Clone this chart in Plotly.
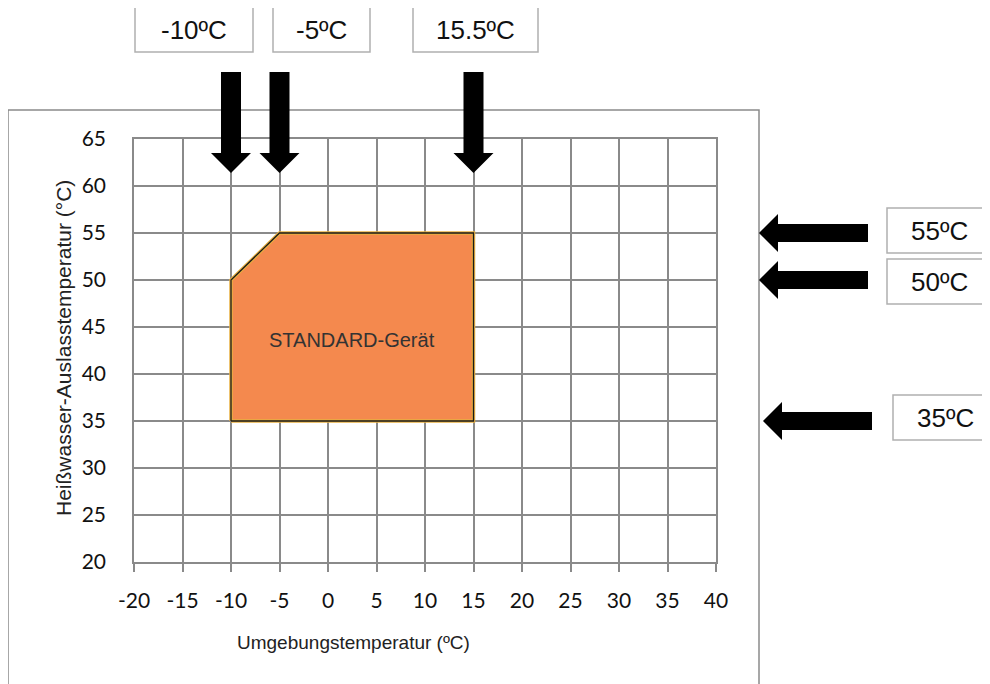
import plotly.graph_objects as go

# ---- data ----
region_x = [-10, -10, -5, 15, 15, -10]
region_y = [35, 50, 55, 55, 35, 35]
region_label = "STANDARD-Gerät"
x_ticks = [-20, -15, -10, -5, 0, 5, 10, 15, 20, 25, 30, 35, 40]
y_ticks = [20, 25, 30, 35, 40, 45, 50, 55, 60, 65]
top_marker_x = [-10, -5, 15]
top_marker_labels = ["-10ºC", "-5ºC", "15.5ºC"]
right_marker_y = [55, 50, 35]
right_marker_labels = ["55ºC", "50ºC", "35ºC"]
x_title = "Umgebungstemperatur (ºC)"
y_title = "Heißwasser-Auslasstemperatur (°C)"

OFF = 8  # page body margin
W, H = 990 - OFF, 684 - OFF
L, R, T, B = 134 - OFF, 716 - OFF, 139 - OFF, 562 - OFF
XMIN, XMAX, YMIN, YMAX = -20, 40, 20, 65


def px(x):
    return (x - OFF - L) / (R - L)


def py(y):
    return (B - (y - OFF)) / (B - T)


def data_to_px_x(v):
    return OFF + L + (v - XMIN) / (XMAX - XMIN) * (R - L)


def data_to_px_y(v):
    return OFF + B - (v - YMIN) / (YMAX - YMIN) * (B - T)


def path(points):
    return "M " + " L ".join(f"{px(a):.5f},{py(b):.5f}" for a, b in points) + " Z"


fig = go.Figure()
fig.add_trace(go.Scatter(x=region_x, y=region_y, mode="lines", fill="toself",
                         fillcolor="rgb(244,137,78)",
                         line=dict(color="#e8b040", width=3.5),
                         hoverinfo="skip", showlegend=False))
fig.add_trace(go.Scatter(x=region_x, y=region_y, mode="lines",
                         line=dict(color="#1a1a1a", width=1.3),
                         hoverinfo="skip", showlegend=False))

shapes = []
annotations = []
gray = "#8a8a8a"
boxline = "#b0b0b0"
label_font = dict(family="Liberation Sans, Arial", size=26, color="#111")

# outer frame
shapes.append(dict(type="rect", xref="paper", yref="paper",
                   x0=px(8), x1=px(759), y0=py(690), y1=py(110),
                   line=dict(color=gray, width=1.5), fillcolor="rgba(0,0,0,0)", layer="below"))

# top boxes + down arrows
top_boxes = [(135, 253), (273, 370), (413, 538)]
for xv, lab, (bx0, bx1) in zip(top_marker_x, top_marker_labels, top_boxes):
    shapes.append(dict(type="rect", xref="paper", yref="paper",
                       x0=px(bx0), x1=px(bx1), y0=py(52), y1=py(6),
                       line=dict(color=boxline, width=1.5), fillcolor="white"))
    annotations.append(dict(xref="paper", yref="paper", x=px((bx0 + bx1) / 2), y=py(30),
                            text=lab, showarrow=False, xanchor="center", yanchor="middle",
                            font=label_font))
    tx = data_to_px_x(xv)
    pts = [(tx - 10, 72), (tx + 10, 72), (tx + 10, 153), (tx + 20, 153), (tx, 173),
           (tx - 20, 153), (tx - 10, 153)]
    shapes.append(dict(type="path", xref="paper", yref="paper", path=path(pts),
                       fillcolor="black", line=dict(color="black", width=0)))

# right boxes + left arrows
right_boxes = [(887, 996, 208, 253), (887, 996, 259, 304), (893, 1002, 395, 440)]
arrow_x = [(759, 868), (759, 868), (763, 872)]
for yv, lab, (bx0, bx1, by0, by1), (ax0, ax1) in zip(right_marker_y, right_marker_labels,
                                                     right_boxes, arrow_x):
    shapes.append(dict(type="rect", xref="paper", yref="paper",
                       x0=px(bx0), x1=px(bx1), y0=py(by1), y1=py(by0),
                       line=dict(color=boxline, width=1.5), fillcolor="white"))
    annotations.append(dict(xref="paper", yref="paper", x=px((bx0 + bx1) / 2 - 2),
                            y=py((by0 + by1) / 2), text=lab, showarrow=False,
                            xanchor="center", yanchor="middle", font=label_font))
    ty = data_to_px_y(yv)
    pts = [(ax0, ty), (ax0 + 19, ty - 19), (ax0 + 19, ty - 9), (ax1, ty - 9),
           (ax1, ty + 9), (ax0 + 19, ty + 9), (ax0 + 19, ty + 19)]
    shapes.append(dict(type="path", xref="paper", yref="paper", path=path(pts),
                       fillcolor="black", line=dict(color="black", width=0)))

# region label
annotations.append(dict(x=2.5, y=43.6, xref="x", yref="y", text=region_label, showarrow=False,
                        font=dict(family="Liberation Sans, Arial", size=20, color="#333")))
# axis titles
annotations.append(dict(xref="paper", yref="paper", x=px(353), y=py(642), text=x_title,
                        showarrow=False, xanchor="center", yanchor="middle",
                        font=dict(family="Liberation Sans, Arial", size=19, color="#222")))
annotations.append(dict(xref="paper", yref="paper", x=px(63), y=py(348), text=y_title,
                        showarrow=False, xanchor="center", yanchor="middle", textangle=-90,
                        font=dict(family="Liberation Sans, Arial", size=21, color="#222")))

fig.update_layout(
    width=W, height=H,
    margin=dict(l=L, r=W - R, t=T, b=H - B, pad=0),
    paper_bgcolor="white", plot_bgcolor="white",
    showlegend=False,
    shapes=shapes, annotations=annotations,
    xaxis=dict(range=[XMIN, XMAX], tickvals=x_ticks, ticktext=[str(v) for v in x_ticks],
               showgrid=True, gridcolor=gray, gridwidth=1.5, zeroline=False,
               showline=True, linecolor=gray, linewidth=1.5, mirror=True,
               ticks="outside", ticklen=8, tickcolor=gray, tickwidth=1.5,
               ticklabelstandoff=11, fixedrange=True,
               tickfont=dict(family="Lato, Carlito, Calibri", size=21, color="#111")),
    yaxis=dict(range=[YMIN, YMAX], tickvals=y_ticks, ticktext=[str(v) for v in y_ticks],
               showgrid=True, gridcolor=gray, gridwidth=1.5, zeroline=False,
               showline=True, linecolor=gray, linewidth=1.5, mirror=True,
               ticks="", ticklabelstandoff=22, fixedrange=True,
               tickfont=dict(family="Lato, Carlito, Calibri", size=21, color="#111")),
)

fig.write_html("out.html")
